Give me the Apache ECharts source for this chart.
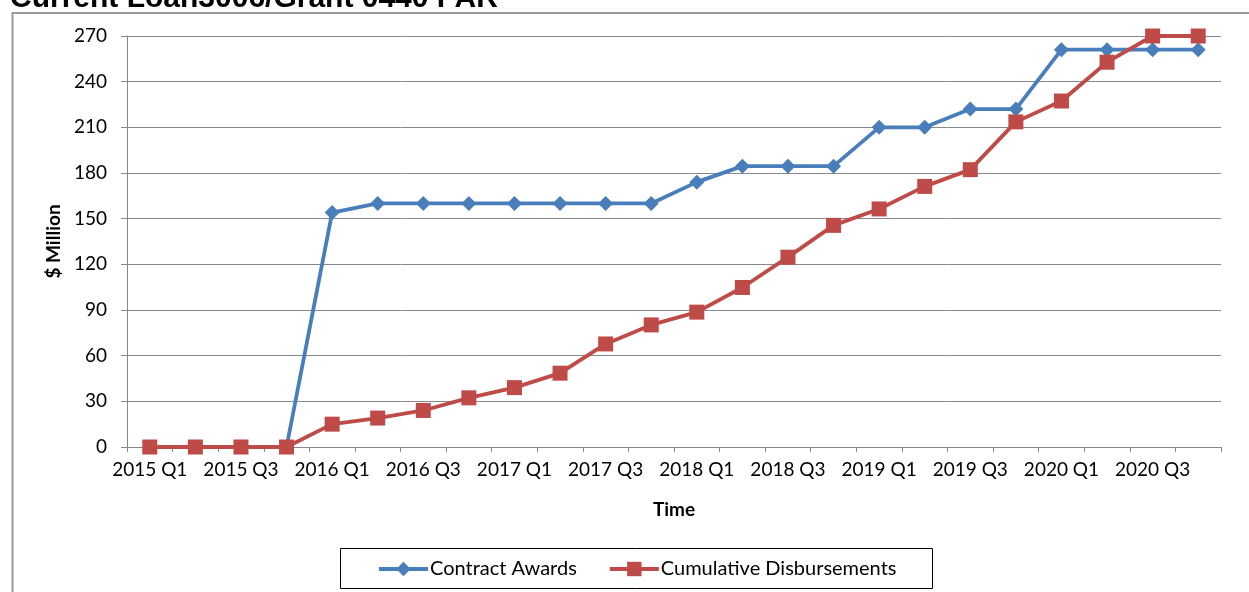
<!DOCTYPE html>
<html>
<head>
<meta charset="utf-8">
<script src="https://cdn.jsdelivr.net/npm/echarts@6/dist/echarts.min.js"></script>
<style>
  html, body { margin: 0; padding: 0; background: #fff; }
  #main { width: 1249px; height: 592px; }
</style>
</head>
<body>
<div id="main"></div>
<script>
// quarters 2015 Q1 .. 2020 Q4
var quarters = [
  '2015 Q1', '2015 Q2', '2015 Q3', '2015 Q4',
  '2016 Q1', '2016 Q2', '2016 Q3', '2016 Q4',
  '2017 Q1', '2017 Q2', '2017 Q3', '2017 Q4',
  '2018 Q1', '2018 Q2', '2018 Q3', '2018 Q4',
  '2019 Q1', '2019 Q2', '2019 Q3', '2019 Q4',
  '2020 Q1', '2020 Q2', '2020 Q3', '2020 Q4'
];
// $ Million
var contractAwards = [
  0, 0, 0, 0,
  154, 160, 160, 160,
  160, 160, 160, 160,
  174, 184.5, 184.5, 184.5,
  210, 210, 222, 222,
  261, 261, 261, 261
];
var cumulativeDisb = [
  0, 0, 0, 0,
  15, 19, 24, 32.3,
  39, 48.5, 67.7, 80.2,
  88.6, 104.8, 124.7, 145.6,
  156.4, 171.2, 182.2, 213.6,
  227.3, 252.8, 270, 270
];
var seriesNames = ['Contract Awards', 'Cumulative Disbursements'];

var gridColor = '#888888';
var chart = echarts.init(document.getElementById('main'));

var option = {
  animation: false,
  textStyle: { fontFamily: 'Lato' },
  graphic: [
    {
      type: 'rect',
      shape: { x: 12.5, y: 13, width: 1250, height: 600 },
      style: { fill: 'none', stroke: '#9a9a9a', lineWidth: 2 },
      silent: true
    },
    {
      type: 'text',
      left: 10,
      top: -16,
      style: {
        text: 'Current Loan3006/Grant 0440 PAR',
        font: 'bold 30px "Liberation Sans", Arial',
        fill: '#000'
      }
    },
    {
      type: 'rect',
      shape: { x: 340.5, y: 548.5, width: 592, height: 40 },
      style: { fill: '#fff', stroke: '#000', lineWidth: 1 },
      z: 0
    }
  ],
  grid: { left: 127, right: 28, top: 36, bottom: 145 },
  legend: {
    data: seriesNames,
    left: 372,
    top: 554,
    itemWidth: 49,
    itemHeight: 18,
    itemGap: 31,
    z: 5,
    lineStyle: { width: 4 },
    textStyle: { fontFamily: 'Lato', fontSize: 20, color: '#000', padding: [0, 0, 0, -3] }
  },
  xAxis: {
    type: 'category',
    data: quarters,
    boundaryGap: true,
    name: 'Time',
    nameLocation: 'middle',
    nameGap: 53,
    nameTextStyle: { fontFamily: 'Lato', fontWeight: 'bold', fontSize: 19, color: '#000' },
    axisLine: { lineStyle: { color: gridColor, width: 1 } },
    axisTick: { show: true, interval: 0, length: 5, lineStyle: { color: gridColor } },
    axisLabel: { interval: 1, margin: 13, fontSize: 19, color: '#000', fontFamily: 'Lato' },
    splitLine: { show: false }
  },
  yAxis: {
    type: 'value',
    min: 0,
    max: 270,
    interval: 30,
    name: '$ Million',
    nameLocation: 'middle',
    nameGap: 60,
    nameTextStyle: { fontFamily: 'Lato', fontWeight: 'bold', fontSize: 19, color: '#000' },
    axisLine: { show: true, lineStyle: { color: gridColor, width: 1 } },
    axisTick: { show: true, length: 6, lineStyle: { color: gridColor } },
    axisLabel: { margin: 20, fontSize: 19, color: '#000', fontFamily: 'Lato' },
    splitLine: { lineStyle: { color: gridColor, width: 1 } }
  },
  series: [
    {
      name: seriesNames[0],
      type: 'line',
      data: contractAwards,
      symbol: 'diamond',
      symbolSize: 15,
      itemStyle: { color: '#4A7EBB' },
      lineStyle: { color: '#4A7EBB', width: 3.8 },
      z: 3
    },
    {
      name: seriesNames[1],
      type: 'line',
      data: cumulativeDisb,
      symbol: 'rect',
      symbolSize: 15,
      itemStyle: { color: '#BE4B48' },
      lineStyle: { color: '#BE4B48', width: 3.8 },
      z: 4
    }
  ]
};
chart.setOption(option);
</script>
</body>
</html>
